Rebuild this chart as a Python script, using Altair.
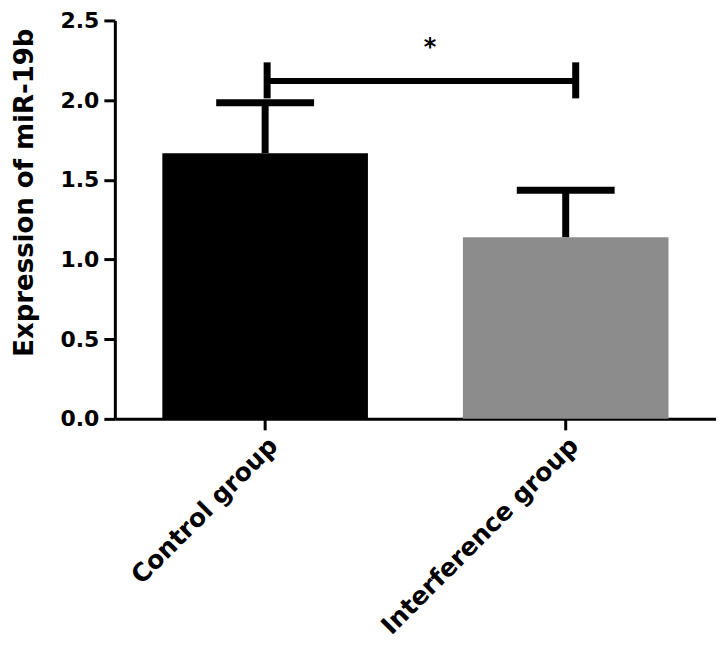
import altair as alt
import pandas as pd

groups = ["Control group", "Interference group"]
means = [1.667, 1.140]
upper = [1.983, 1.435]
colors = ["#000000", "#8c8c8c"]

bracket_y = 2.12
bracket_tick_lo = 2.011
bracket_tick_hi = 2.237
star_y = 2.33
star_label = "*"

df = pd.DataFrame({"group": groups, "mean": means, "upper": upper, "color": colors})
br = pd.DataFrame({"g1": [groups[0]], "g2": [groups[1]], "y": [bracket_y],
                   "lo": [bracket_tick_lo], "hi": [bracket_tick_hi],
                   "sy": [star_y], "label": [star_label]})

FONT = "DejaVu Sans"

x = alt.X("group:N", sort=groups, title=None,
          scale=alt.Scale(paddingInner=0.316, paddingOuter=0.158),
          axis=alt.Axis(labelAngle=-45, labelFont=FONT, labelFontWeight="bold",
                        labelFontSize=25, labelColor="black", labelPadding=3,
                        labelLimit=600,
                        domainColor="black", domainWidth=3, tickColor="black",
                        tickWidth=3, tickSize=11))
y = alt.Y("mean:Q", title="Expression of miR-19b",
          scale=alt.Scale(domain=[0, 2.5], nice=False),
          axis=alt.Axis(values=[0, 0.5, 1.0, 1.5, 2.0, 2.5], format=".1f", grid=False,
                        labelFont=FONT, labelFontWeight="bold", labelFontSize=22,
                        labelColor="black", labelPadding=5,
                        titleFont=FONT, titleFontWeight="bold", titleFontSize=26,
                        titleColor="black", titleX=-77, titleY=172, titleLimit=600,
                        domainColor="black", domainWidth=3, tickColor="black",
                        tickWidth=3, tickSize=11))

base = alt.Chart(df)
bars = base.mark_bar().encode(
    x=x, y=y,
    color=alt.Color("color:N", scale=None, legend=None))
err = base.mark_rule(color="black", strokeWidth=7).encode(
    x=alt.X("group:N", sort=groups), y="mean:Q", y2="upper:Q")
cap = base.mark_tick(color="black", size=98, thickness=7, opacity=1).encode(
    x=alt.X("group:N", sort=groups), y="upper:Q")

bb = alt.Chart(br)
hline = bb.mark_rule(color="black", strokeWidth=6, xOffset=2, x2Offset=10).encode(
    x=alt.X("g1:N", sort=groups), x2="g2:N", y="y:Q")
vl = bb.mark_rule(color="black", strokeWidth=7, xOffset=2).encode(
    x=alt.X("g1:N", sort=groups), y="lo:Q", y2="hi:Q")
vr = bb.mark_rule(color="black", strokeWidth=7, xOffset=10).encode(
    x=alt.X("g2:N", sort=groups), y="lo:Q", y2="hi:Q")
star = bb.mark_text(font=FONT, fontSize=24, fontWeight="bold", color="black",
                    baseline="middle", dx=165).encode(
    x=alt.X("g1:N", sort=groups), y="sy:Q", text="label:N")

chart = alt.layer(bars, err, cap, hline, vl, vr, star).properties(
    width=602, height=399,
    autosize=alt.AutoSizeParams(type="none"),
    padding={"left": 107, "top": 12, "right": 0, "bottom": 221},
    background="white",
).configure_view(stroke=None)

chart.save("out.html", embed_options={"renderer": "svg", "actions": False})
